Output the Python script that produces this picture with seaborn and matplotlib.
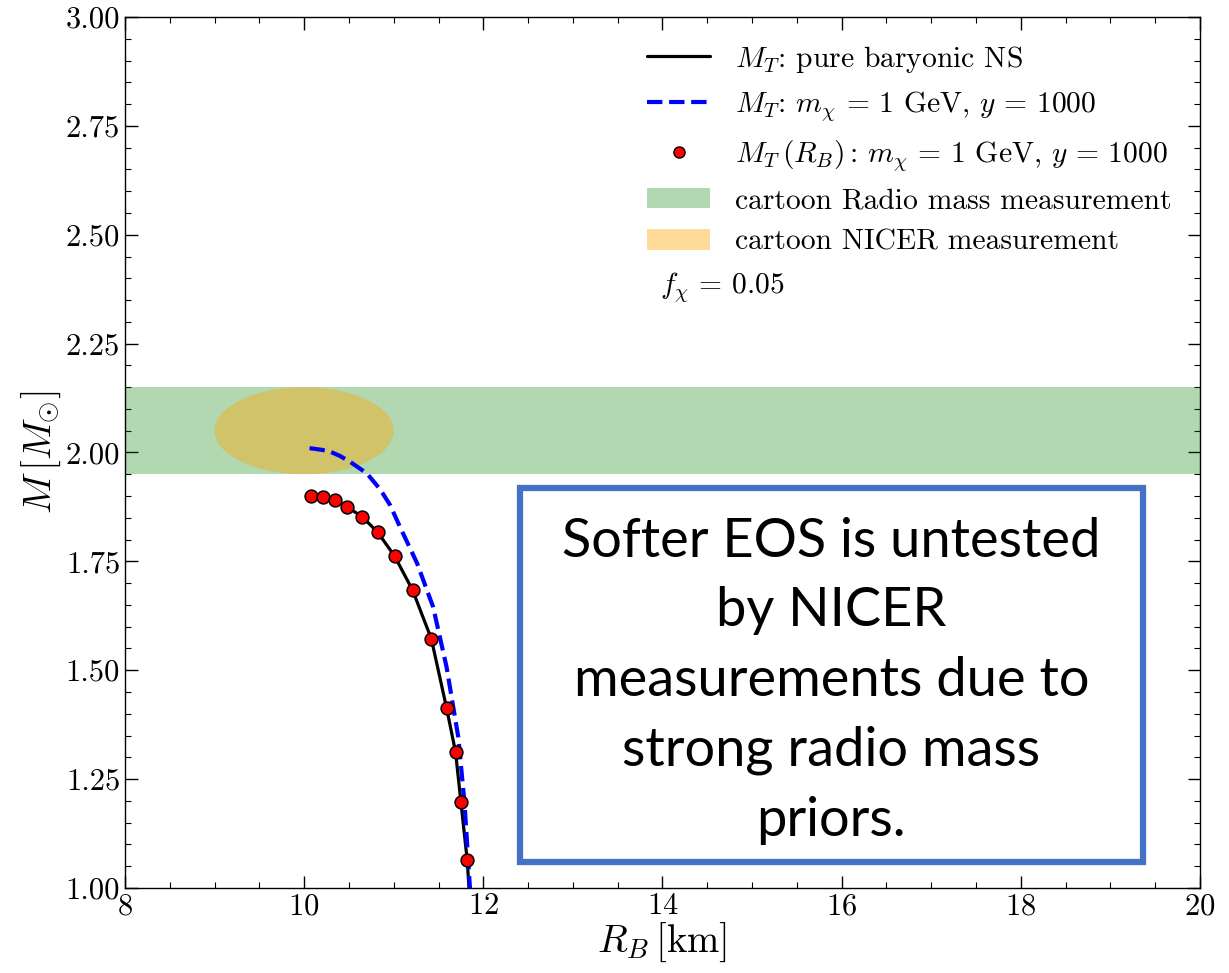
import numpy as np
import pandas as pd
import matplotlib
matplotlib.use("Agg")
import matplotlib.pyplot as plt
import seaborn as sns
from matplotlib.patches import Ellipse, Rectangle, Patch
from matplotlib.lines import Line2D
from matplotlib.ticker import MultipleLocator, FormatStrFormatter

# ---------------- data ----------------
# pure baryonic NS mass-radius curve
r_baryonic = [10.08, 10.21, 10.34, 10.48, 10.65, 10.82, 11.01, 11.21, 11.42, 11.59, 11.69, 11.75, 11.82, 11.84, 11.86]
m_baryonic = [1.900, 1.898, 1.891, 1.875, 1.852, 1.817, 1.762, 1.684, 1.572, 1.413, 1.312, 1.197, 1.064, 1.00, 0.95]

# total mass with dark matter, m_chi = 1 GeV, y = 1000
r_dm = [10.06, 10.20, 10.29, 10.40, 10.51, 10.70, 10.85, 10.96, 11.07, 11.26, 11.44, 11.59, 11.72, 11.79, 11.85, 11.87]
m_dm = [2.010, 2.006, 2.002, 1.992, 1.979, 1.952, 1.915, 1.879, 1.829, 1.746, 1.645, 1.507, 1.347, 1.195, 1.002, 0.95]

# M_T evaluated at baryonic radius R_B (red dots)
r_dots = [10.08, 10.21, 10.34, 10.48, 10.65, 10.82, 11.01, 11.21, 11.42, 11.59, 11.69, 11.75, 11.82]
m_dots = [1.900, 1.898, 1.891, 1.875, 1.852, 1.817, 1.762, 1.684, 1.572, 1.413, 1.312, 1.197, 1.064]

# cartoon measurements
radio_band = [1.95, 2.15]                 # M range
nicer_center = [10.0, 2.05]               # (R, M)
nicer_size = [2.0, 0.2]                   # full width (km), full height (Msun)

f_chi_text = r"$f_\chi \,=\, 0.05$"
box_text = "Softer EOS is untested\nby NICER\nmeasurements due to\nstrong radio mass\npriors."

labels = [r"$M_T$: pure baryonic NS",
          r"$M_T$: $m_\chi \,=\, 1$ GeV, $y \,=\, 1000$",
          r"$M_T\,(R_B)\,$: $m_\chi \,=\, 1$ GeV, $y \,=\, 1000$",
          "cartoon Radio mass measurement",
          "cartoon NICER measurement"]

# ---------------- style ----------------
sns.set_style("ticks")
plt.rcParams.update({
    "font.family": "serif",
    "font.serif": ["cmr10", "DejaVu Serif"],
    "mathtext.fontset": "cm",
    "axes.formatter.use_mathtext": True,
    "axes.unicode_minus": False,
    "xtick.direction": "in",
    "ytick.direction": "in",
    "xtick.top": True,
    "ytick.right": True,
    "axes.linewidth": 1.0,
    "axes.edgecolor": "black",
    "text.color": "black",
    "axes.labelcolor": "black",
    "xtick.color": "black",
    "ytick.color": "black",
})

fig = plt.figure(figsize=(12.29, 9.73), dpi=100)
ax = fig.add_axes([0.1017, 0.0874, 0.8747, 0.8951])

ax.axhspan(radio_band[0], radio_band[1], color="green", alpha=0.3, lw=0, zorder=1)
ax.add_patch(Ellipse((nicer_center[0], nicer_center[1]), nicer_size[0], nicer_size[1],
                     color="orange", alpha=0.4, lw=0, zorder=1.5))

df_b = pd.DataFrame({"R": r_baryonic, "M": m_baryonic})
df_d = pd.DataFrame({"R": r_dm, "M": m_dm})
df_p = pd.DataFrame({"R": r_dots, "M": m_dots})

sns.lineplot(data=df_b, x="R", y="M", sort=False, estimator=None, color="black", lw=2.3, ax=ax, zorder=3)
sns.lineplot(data=df_d, x="R", y="M", sort=False, estimator=None, color="blue", lw=3.0,
             linestyle="--", ax=ax, zorder=3)
sns.scatterplot(data=df_p, x="R", y="M", color="red", edgecolor="black", linewidth=1.1, s=85,
                ax=ax, zorder=4)

ax.set_xlim(8, 20)
ax.set_ylim(1.0, 3.0)
ax.xaxis.set_major_locator(MultipleLocator(2))
ax.xaxis.set_minor_locator(MultipleLocator(0.5))
ax.yaxis.set_major_locator(MultipleLocator(0.25))
ax.yaxis.set_minor_locator(MultipleLocator(0.05))
ax.yaxis.set_major_formatter(FormatStrFormatter("%.2f"))
ax.tick_params(which="major", length=9, width=1.0, labelsize=22, direction="in", top=True, right=True)
ax.tick_params(which="minor", length=4.5, width=0.8, direction="in", top=True, right=True)
ax.set_xlabel(r"$R_B\,[\mathrm{km}]$", fontsize=28, labelpad=0)
ax.set_ylabel(r"$M\,[M_{\odot}]$", fontsize=28, labelpad=2)

handles = [Line2D([], [], color="black", lw=2.3),
           Line2D([], [], color="blue", lw=3.0, linestyle="--"),
           Line2D([], [], color="red", marker="o", markeredgecolor="black", markersize=8, lw=0),
           Patch(facecolor="green", alpha=0.3, lw=0),
           Patch(facecolor="orange", alpha=0.4, lw=0)]
ax.legend(handles, labels, loc="upper right", bbox_to_anchor=(0.998, 1.0), frameon=False,
          fontsize=21.3, handlelength=2.1, labelspacing=0.5, handletextpad=0.85)

ax.text(0.4977, 0.69, f_chi_text, transform=ax.transAxes, fontsize=21.3, va="center", ha="left")

ax.add_patch(Rectangle((0.367, 0.030), 0.58, 0.429, transform=ax.transAxes, fill=False,
                       edgecolor="#4472C4", lw=4.5, zorder=5, clip_on=False))
ax.text(0.657, 0.2377, box_text, transform=ax.transAxes, ha="center", va="center",
        fontsize=39, family="Lato", color="black", linespacing=1.52, zorder=6)

fig.savefig("out.png", dpi=100)
